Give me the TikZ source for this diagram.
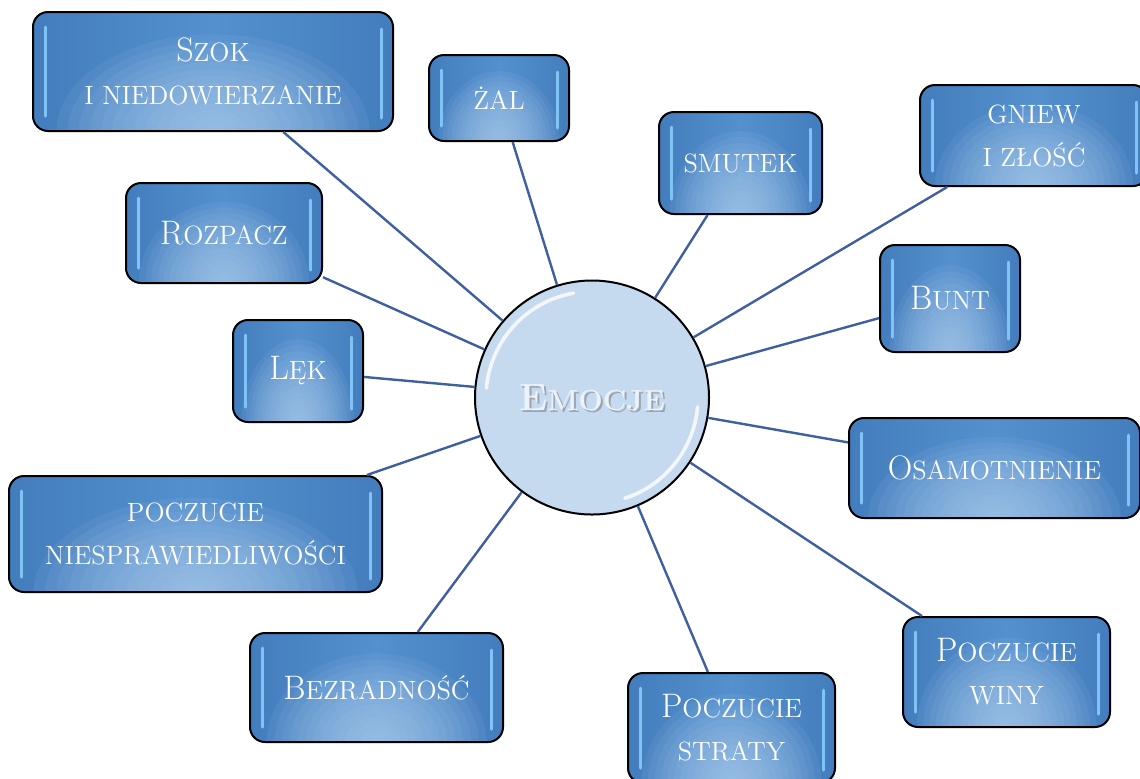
\documentclass[tikz,border=0pt]{standalone}
\usepackage{tikz}
\usetikzlibrary{calc}

\definecolor{glowblue}{RGB}{180,210,240}
\definecolor{midblue}{RGB}{84,144,206}
\definecolor{boxblue}{RGB}{64,121,185}
\definecolor{deepblue}{RGB}{46,94,152}
\definecolor{barblue}{RGB}{128,196,246}
\definecolor{linkblue}{RGB}{62,96,160}
\definecolor{ballblue}{RGB}{197,217,239}
\definecolor{titlewhite}{RGB}{236,242,250}
\pgfdeclarehorizontalshading{boxside}{100bp}{color(0bp)=(deepblue); color(20bp)=(boxblue); color(50bp)=(midblue); color(80bp)=(boxblue); color(100bp)=(deepblue)}
\newcommand\lowcaps[1]{{\fontsize{13.2}{21.5}\selectfont\MakeUppercase{#1}}}

\begin{document}
\begin{tikzpicture}[x=0.5pt,y=-0.5pt,
  emo/.style={rectangle, rounded corners=7.5pt, draw=black, line width=1pt, shading=boxside, inner sep=0pt, align=center, text=white, font=\fontsize{17}{21.5}\selectfont,
    path picture={
      \foreach \k in {1,...,14}
        \fill[glowblue, opacity=0.085] let \p1=(path picture bounding box.south west), \p2=(path picture bounding box.north east) in
          (path picture bounding box.south) ellipse [x radius={0.031*\k*(\x2-\x1)}, y radius={0.058*\k*(\y2-\y1)}];
      \draw[bar] ([xshift=6pt,yshift=-7.5pt]path picture bounding box.north west) -- ([xshift=6pt,yshift=7.5pt]path picture bounding box.south west);
      \draw[bar] ([xshift=-6pt,yshift=-8.5pt]path picture bounding box.north east) -- ([xshift=-6pt,yshift=6.5pt]path picture bounding box.south east);}},
  bar/.style={barblue, line width=1.5pt, line cap=round},
  link/.style={linkblue, line width=1.2pt},
  ball/.style={circle, draw=black, line width=1pt, fill=ballblue, minimum size=117pt, inner sep=0pt, text=titlewhite, font=\fontsize{19}{23}\selectfont\bfseries,
    path picture={\node[text=black!60, opacity=0.45] at ([xshift=1pt,yshift=-1.3pt]path picture bounding box.center) {E{\fontsize{14.5}{23}\selectfont MOCJE}};}}]
\useasboundingbox (0,0) rectangle (1140,778);

\node[ball] (emocje) at (592,397.5) {E{\fontsize{14.5}{23}\selectfont MOCJE}};
\draw[white, line width=1.8pt, line cap=round, opacity=0.8] ([shift={(100:53pt)}]emocje.center) arc[start angle=100, end angle=175, radius=53pt];
\draw[white, line width=1.8pt, line cap=round, opacity=0.8] ([shift={(-5:53pt)}]emocje.center) arc[start angle=-5, end angle=-72, radius=53pt];

\node[emo, minimum width=180pt, minimum height=59.5pt] (szok) at (213,71.5) {S\lowcaps{zok}\\\lowcaps{i niedowierzanie}};
\node[emo, minimum width=70pt, minimum height=43pt] (zal) at (499,98) {\lowcaps{żal}};
\node[emo, minimum width=81.5pt, minimum height=51pt] (smutek) at (740.5,163) {\lowcaps{smutek}};
\node[emo, minimum width=114pt, minimum height=50.5pt] (gniew) at (1034,135.5) {\lowcaps{gniew}\\\lowcaps{i złość}};
\node[emo, minimum width=98pt, minimum height=50pt] (rozpacz) at (224,233) {R\lowcaps{ozpacz}};
\node[emo, minimum width=70pt, minimum height=53.5pt] (bunt) at (950,298.5) {B\lowcaps{unt}};
\node[emo, minimum width=65pt, minimum height=51pt] (lek) at (298,371) {L\lowcaps{ęk}};
\node[emo, minimum width=145.5pt, minimum height=50pt] (osam) at (994.5,468) {O\lowcaps{samotnienie}};
\node[emo, minimum width=186.5pt, minimum height=58pt] (niespr) at (195.5,534) {\lowcaps{poczucie}\\\lowcaps{niesprawiedliwości}};
\node[emo, minimum width=126.5pt, minimum height=54.5pt] (bezr) at (376.5,687.5) {B\lowcaps{ezradność}};
\node[emo, minimum width=103.5pt, minimum height=55pt] (straty) at (731.5,728) {P\lowcaps{oczucie}\\\lowcaps{straty}};
\node[emo, minimum width=103.5pt, minimum height=55pt] (winy) at (1006.5,672) {P\lowcaps{oczucie}\\\lowcaps{winy}};

\foreach \n in {szok,zal,smutek,gniew,rozpacz,bunt,lek,osam,niespr,bezr,straty,winy}
  \draw[link] (\n) -- (emocje);
\end{tikzpicture}
\end{document}
